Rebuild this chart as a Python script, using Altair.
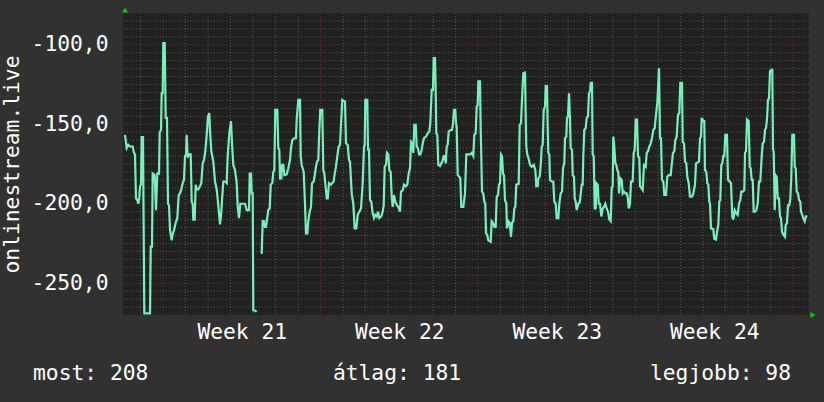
import altair as alt
import pandas as pd

# ---- data: sample index (one sample = 64 minutes) and value ----
SAMPLE_MINUTES = 64
GAP_AFTER = 133.7  # no data between this sample and the next reading

T1 = [2.0, 3.7, 5.3, 7.0, 9.7, 11.0, 12.0, 13.0, 14.3, 15.3,
      16.3, 17.0, 18.0, 18.7, 20.0, 21.3, 27.0, 27.7, 29.0, 29.7,
      31.7, 33.0, 34.3, 36.0, 36.7, 38.0, 38.7, 39.7, 40.3, 41.7,
      42.7, 44.0, 45.0, 46.0, 47.0, 48.7, 49.7, 51.0, 52.7, 54.3,
      55.7, 57.0, 58.3, 59.7, 61.0, 62.0, 63.0, 63.7, 64.7, 66.0,
      67.7, 68.7, 69.7, 70.3, 71.7, 72.7, 73.7, 75.3, 77.0, 78.3,
      79.7, 81.0, 82.3, 83.7, 85.0, 86.3, 87.0, 88.3, 90.3, 92.0,
      93.7, 95.3, 97.0, 98.0, 99.0, 100.3, 102.3, 103.7, 104.7, 106.3,
      108.0, 109.0, 110.3]
V1 = [-156.7, -165, -163, -164, -164, -168, -169, -196.6, -197.7, -200,
      -196, -189, -188, -158, -158, -269, -269, -227, -227, -181,
      -182, -204, -181, -181, -155, -153.6, -130.5, -130.5, -99, -99,
      -146, -146, -200, -201, -216.6, -223, -219, -216.6, -212, -209,
      -194.5, -193.5, -191, -187, -185, -170, -169, -156.7, -171, -169,
      -169, -198.7, -200, -210, -210, -188, -191, -191, -189, -187,
      -174.6, -172.5, -167, -156.7, -145, -143, -153.6, -167, -173.5, -186,
      -191, -201, -213, -208, -197.7, -186, -186, -187, -170, -155.7,
      -148, -162, -175.6]

T2 = [112.0, 113.7, 114.7, 116.0, 117.3, 118.7, 122.0, 123.7, 126.0, 126.7,
      128.0, 128.7, 129.7, 130.3, 132.7, 133.7]
V2 = [-178.8, -187, -202, -209, -200, -200, -200, -204, -204, -181,
      -181, -193.5, -193.5, -267, -267.5, -268]

T3 = [137.7, 138.7, 139.7, 141.0, 142.0, 143.0, 144.0, 145.3, 146.7, 147.7,
      149.3, 150.3, 151.3, 152.3, 154.3, 155.3, 156.3, 157.0, 158.3, 159.0,
      160.3, 161.3, 163.7, 165.3, 167.0, 168.0, 169.3, 171.3, 173.0, 173.7,
      175.3, 177.0, 177.7, 178.7, 180.7, 182.0, 183.0, 184.3, 185.3, 186.7,
      188.0, 189.0, 190.7, 192.0, 193.0, 194.0, 195.3, 196.3, 197.3, 199.3,
      200.3, 201.3, 202.3, 203.7, 204.7, 206.0, 208.0, 209.3, 210.7, 211.7,
      213.0, 214.3, 215.7, 217.0, 218.0, 219.3, 222.0, 223.0, 224.7, 226.0]
V3 = [-231, -231, -211, -211, -214.5, -214.5, -210, -204, -203, -188,
      -187, -180, -179, -141, -141, -165, -166, -184, -184, -175.6,
      -175.6, -182, -181.5, -177.7, -172.5, -165, -160, -158.8, -158.8, -147,
      -134.7, -134.7, -170, -175.6, -180, -200, -218.7, -218.7, -211, -205,
      -202, -187, -186, -181, -176.7, -173.5, -172.5, -153.6, -141, -141,
      -178.8, -181, -187, -196.6, -196.6, -187, -188, -187, -186, -181,
      -176.7, -170, -164, -163, -150.4, -134.7, -135.7, -162, -163, -172.5]

T4 = [227.0, 228.7, 230.3, 231.7, 233.3, 234.7, 236.3, 238.0, 239.7, 241.0,
      241.7, 242.3, 244.3, 245.0, 246.0, 247.0, 248.3, 249.7, 251.0, 252.3,
      253.7, 255.0, 256.3, 258.3, 259.7, 260.7, 261.7, 263.0, 264.0, 265.3,
      266.3, 267.7, 268.7, 269.7, 271.0, 272.3, 273.7, 275.3, 277.0, 278.0,
      279.7, 281.0, 282.7, 284.3, 285.7, 287.0, 288.0, 289.3, 290.3, 291.3,
      292.7, 293.7, 295.0, 296.0, 297.3, 298.7, 299.7, 301.0, 303.0, 304.7,
      306.3, 307.3, 308.7, 310.0, 310.7, 312.0, 312.7, 313.3, 314.3, 315.3,
      317.0, 318.3, 319.3, 320.7, 321.7, 322.7, 323.7, 324.7, 325.7, 327.7,
      329.0, 330.0, 331.0, 332.3, 333.0, 333.7, 334.7, 336.3, 337.3, 338.3,
      340.3]
V4 = [-173.5, -193.5, -200, -215.5, -215.5, -207, -205, -203, -187, -164,
      -163, -134.7, -134.7, -166, -166, -197.7, -198.7, -206, -209, -207,
      -208, -205, -209, -208, -205, -201, -176.7, -175.6, -168, -169,
      -178.8, -180, -195.6, -202, -194.5, -198.7, -200.7, -202, -205, -192.4,
      -191.4, -188, -189, -188, -181, -177.7, -161, -162, -168, -150.4,
      -150.4, -164, -165, -169, -169, -166, -162, -158.8, -157.8, -155.7,
      -154.6, -149.4, -128.4, -128.4, -108.4, -108.4, -129.4, -155.7, -156.7, -175.6,
      -176.3, -174.6, -173.5, -170, -170, -174.6, -164, -163, -154.6, -153.6,
      -153.6, -149.4, -141, -141, -149.4, -151.5, -182, -183, -184, -202,
      -202]

T5 = [342.0, 343.3, 345.3, 347.0, 348.7, 350.3, 351.3, 352.7, 353.7, 354.7,
      355.3, 357.0, 357.7, 358.3, 359.0, 360.3, 361.3, 362.3, 363.0, 364.3,
      365.3, 367.7, 368.7, 370.0, 371.3, 372.7, 373.7, 375.0, 376.0, 377.0,
      378.0, 379.0, 380.0, 381.0, 382.0, 383.3, 384.0, 385.3, 386.7, 388.0,
      389.0, 390.3, 391.3, 392.3, 393.3, 395.7, 396.7, 398.0, 399.0, 400.3,
      402.0, 402.7, 403.3, 404.3, 406.0, 407.0, 408.7, 410.7, 412.3, 413.3,
      414.7, 415.3, 416.7, 418.0, 418.7, 419.7, 420.7, 422.0, 422.7, 424.0,
      424.7, 425.3, 426.3, 427.0, 428.7, 430.3, 431.3, 432.7, 433.7, 435.3,
      436.3, 437.7, 439.0, 440.0, 441.3, 442.0, 443.3, 444.0, 445.0, 446.0,
      447.0, 447.7, 449.0, 449.7, 451.0, 451.7, 452.7, 453.7, 455.3, 456.7]
V5 = [-193.5, -169, -169, -169, -168, -170, -156.7, -155.7, -139, -138,
      -123, -123, -153.6, -170, -192.4, -193.5, -198.7, -200, -218.7, -219.7,
      -223, -224, -211, -212, -214.5, -214.5, -195.6, -194.5, -188, -187,
      -169, -170, -181, -182, -197.7, -200, -215.5, -211, -212, -220.8,
      -212, -211, -203, -202, -188, -187.5, -150.4, -149.4, -134.7, -117.9,
      -117.5, -145, -164, -169, -172.5, -175.6, -176.7, -175.6, -178.8, -189,
      -189, -184, -183, -173.5, -164, -163, -141, -139, -126, -126,
      -151.5, -168, -169, -185, -186, -186, -198.7, -200, -209, -209,
      -200, -193.5, -192.4, -177.7, -174.6, -158.8, -157.8, -146, -145, -130.5,
      -147, -165, -166, -182, -183, -196.6, -198.7, -204, -200, -199]

T6 = [457.0, 458.7, 459.7, 460.3, 461.3, 462.7, 463.7, 465.0, 466.0, 467.0,
      467.7, 469.0, 469.7, 470.7, 471.7, 472.7, 473.3, 474.7, 475.7, 477.0,
      478.3, 479.7, 481.0, 482.3, 483.7, 485.0, 486.3, 487.7, 488.7, 489.7,
      490.3, 491.3, 492.3, 493.3, 494.3, 495.3, 496.0, 497.3, 498.7, 499.7,
      501.0, 502.3, 503.7, 504.7, 505.7, 507.0, 508.0, 509.7, 510.7, 511.7,
      512.7, 514.0, 515.0, 516.3, 517.0, 518.3, 519.7, 521.0, 522.7, 523.7,
      525.0, 526.3, 527.7, 529.0, 530.3, 531.7, 533.0, 534.3, 535.3, 536.0,
      537.0, 538.0, 539.0, 540.3, 541.3, 543.0, 544.3, 545.7, 547.7, 548.7,
      550.0, 551.3, 552.3, 553.7, 555.0, 556.3, 557.3, 559.0, 559.7, 561.0,
      562.0, 563.3, 564.3, 565.7, 567.0, 569.0, 570.3]
V6 = [-197.7, -188, -188, -170, -153.6, -152.5, -146, -145, -130.5, -129.4,
      -124, -124, -169, -170, -203, -203, -187, -188, -200, -200,
      -208, -203, -202, -200, -203, -205, -210, -211, -190, -189,
      -157.8, -164, -174.6, -175.6, -178.8, -180, -193.5, -184, -185, -193.5,
      -192.4, -193.5, -193.5, -195.6, -203, -200, -186, -186, -168, -166,
      -147, -147, -170, -171, -189, -190, -191.4, -175.6, -176.7, -168,
      -167, -164, -162, -158.8, -153.6, -152.5, -144, -136.8, -124, -114.7,
      -158.8, -158.8, -185, -186, -194.5, -194.5, -183, -182, -182, -175.6,
      -168, -167, -160, -157.8, -144, -143, -124, -124, -161, -162,
      -173.5, -174.6, -183, -187, -195.6, -195.6, -193.5]

T7 = [572.0, 573.0, 574.7, 576.0, 577.0, 578.0, 578.7, 580.3, 581.3, 582.0,
      583.3, 584.3, 585.3, 586.3, 587.0, 588.0, 590.3, 591.3, 593.0, 594.3,
      595.3, 596.3, 597.3, 598.3, 599.3, 600.3, 601.3, 602.3, 604.0, 605.0,
      606.7, 608.0, 609.3, 610.3, 611.7, 613.3, 614.7, 616.0, 617.3, 618.3,
      620.0, 621.3, 622.0, 623.0, 624.0, 625.7, 626.7, 627.7, 628.7, 629.7,
      630.7, 632.0, 633.3, 634.7, 636.0, 637.3, 638.7, 639.7, 641.0, 642.0,
      643.0, 644.0, 645.0, 646.0, 647.0, 648.3, 649.3, 650.0, 650.7, 651.7,
      652.7, 653.7, 654.7, 656.0, 657.0, 658.0, 659.0, 660.7, 662.0, 662.7,
      664.0, 665.0, 666.3, 667.3, 668.3, 669.3, 671.0, 671.7, 672.7, 673.7,
      675.0, 676.0, 677.3, 678.0, 679.3, 680.3, 681.7, 683.0, 684.3]
V7 = [-188, -174.6, -174, -173.5, -158.8, -157.8, -146, -148, -148, -178.8,
      -180, -187, -188, -198.7, -200, -215.5, -216, -222, -222.5, -216.6,
      -213.4, -198.7, -197.7, -175.6, -174.6, -170, -170, -156.7, -156.7, -185,
      -186, -187, -208, -210, -204, -206, -207, -200, -197.7, -192.4,
      -192.4, -191.4, -168, -167, -147, -148, -176.7, -177.7, -185, -185,
      -205, -205, -204, -200, -186, -186, -170, -162, -161, -153.6,
      -152.5, -147, -134.7, -133.7, -116.8, -115.8, -115.8, -166, -167, -204,
      -182, -183, -196.6, -196.6, -208, -209, -217.6, -219.7, -220.8, -213.4,
      -212, -201, -201, -197, -183, -156.7, -156.7, -176.7, -177.7, -192.4,
      -193.5, -197.7, -198.7, -205, -207, -209, -211, -208, -208]

Y_TICKS = [-250, -200, -150, -100]
Y_DOMAIN = [-270, -80]
WEEK_LABELS = ["Week 21", "Week 22", "Week 23", "Week 24"]
SUMMARY = ["most: 208", "átlag: 181", "legjobb: 98"]
Y_TITLE = "onlinestream.live"
TOTAL_SAMPLES = 686
FIRST_WEEK_SAMPLE = 40  # Monday 00:00 of week 21

# ---- build tables ----
H = SAMPLE_MINUTES / 60.0
ts = T1 + T2 + T3 + T4 + T5 + T6 + T7
vs = V1 + V2 + V3 + V4 + V5 + V6 + V7
df = pd.DataFrame({
    "hours": [t * H for t in ts],
    "value": vs,
    "seg": [0 if t <= GAP_AFTER else 1 for t in ts],
})

x_end = TOTAL_SAMPLES * H
week0 = FIRST_WEEK_SAMPLE * H
day_lines = [week0 + 24 * k for k in range(-1, 30) if 0 <= week0 + 24 * k <= x_end and k % 7 != 0]
week_lines = [week0 + 168 * k for k in range(0, 5) if week0 + 168 * k <= x_end]
week_mids = [week0 + 84 + 168 * k for k in range(len(WEEK_LABELS))]
y_minor = [v for v in range(-265, -80, 5) if v % 50 != 0]
y_major = Y_TICKS

FONT = "DejaVu Sans Mono"
FS = 21.3
W, Hh = 686, 302
xs = alt.Scale(domain=[0, x_end], nice=False, zero=False)
ys = alt.Scale(domain=Y_DOMAIN, nice=False, zero=False)

labels_js = "[" + ",".join("'%s'" % w for w in WEEK_LABELS) + "]"

X_AXIS = alt.Axis(
    values=week_mids,
    labelExpr=labels_js + "[round((datum.value - %f) / 168)]" % week_mids[0],
    grid=False, domain=False, ticks=False, title=None,
    labelFont=FONT, labelFontSize=FS, labelColor="#ffffff", labelPadding=6,
    labelBaseline="top", labelFlush=False,
)
Y_AXIS = alt.Axis(
    values=Y_TICKS,
    labelExpr="'-' + replace(format(abs(datum.value), '.1f'), '.', ',')",
    grid=False, domain=False, ticks=False,
    title=Y_TITLE, titleFont=FONT, titleFontSize=FS, titleFontWeight="normal",
    titleColor="#ffffff", titlePadding=9,
    labelFont=FONT, labelFontSize=FS, labelColor="#ffffff", labelPadding=15,
)

vgrid_minor = alt.Chart(pd.DataFrame({"hours": day_lines})).mark_rule(
    color="#575757", strokeWidth=1, strokeDash=[1, 2]
).encode(x=alt.X("hours:Q", scale=xs, axis=X_AXIS))
vgrid_major = alt.Chart(pd.DataFrame({"hours": week_lines})).mark_rule(
    color="#7a3030", strokeWidth=1, strokeDash=[1, 2]
).encode(x=alt.X("hours:Q", scale=xs, axis=X_AXIS))
hgrid_minor = alt.Chart(pd.DataFrame({"value": y_minor})).mark_rule(
    color="#575757", strokeWidth=1, strokeDash=[1, 2]
).encode(y=alt.Y("value:Q", scale=ys, axis=Y_AXIS))
hgrid_major = alt.Chart(pd.DataFrame({"value": y_major})).mark_rule(
    color="#7a3030", strokeWidth=1, strokeDash=[1, 2]
).encode(y=alt.Y("value:Q", scale=ys, axis=Y_AXIS))

line = alt.Chart(df).mark_line(color="#78f0bc", strokeWidth=2.2, interpolate="linear").encode(
    x=alt.X("hours:Q", scale=xs, axis=X_AXIS),
    y=alt.Y("value:Q", scale=ys, axis=Y_AXIS),
    detail="seg:N",
)

one = pd.DataFrame({"k": [0]})
texts = []
for label, align, xpos in zip(SUMMARY, ["left", "center", "right"], [-90, 274, 668]):
    texts.append(
        alt.Chart(pd.DataFrame({"label": [label]})).mark_text(
            align=align, baseline="middle", font=FONT, fontSize=FS, color="#ffffff"
        ).encode(text="label:N", x=alt.value(xpos), y=alt.value(361))
    )

arrow_up = alt.Chart(one).mark_point(shape="triangle-up", filled=True, size=35, color="#00d000", opacity=1).encode(
    x=alt.value(2), y=alt.value(-3))
arrow_right = alt.Chart(one).mark_point(shape="triangle-right", filled=True, size=35, color="#00d000", opacity=1).encode(
    x=alt.value(690), y=alt.value(302))

chart = alt.layer(
    vgrid_minor, hgrid_minor, vgrid_major, hgrid_major, line, *texts, arrow_up, arrow_right
).properties(
    width=W, height=Hh,
    autosize=alt.AutoSizeParams(type="none"),
    padding={"left": 123, "top": 13, "right": 15, "bottom": 87},
    background="#313131",
).configure_view(fill="#212121", stroke=None)

chart.save("out.html", embed_options={"renderer": "svg", "actions": False})
